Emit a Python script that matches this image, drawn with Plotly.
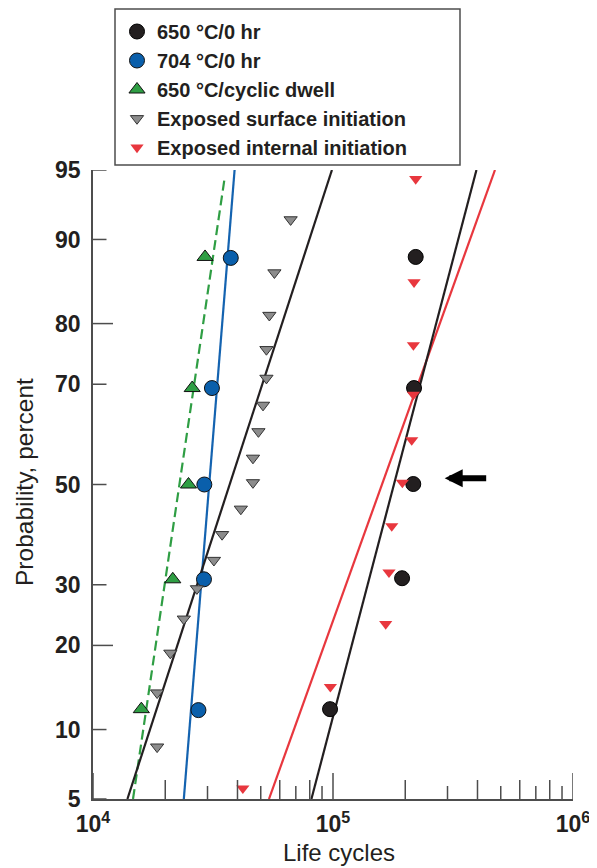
import math
from statistics import NormalDist
import plotly.graph_objects as go

# ---------------- data ----------------
prob_tick_values = [5, 10, 20, 30, 50, 70, 80, 90, 95]
prob_tick_long = [20, 80]
cycle_tick_values = [1e4, 1e5, 1e6]
cycle_tick_labels = ["10<sup>4</sup>", "10<sup>5</sup>", "10<sup>6</sup>"]

hr650_cycles = [97200, 194000, 216000, 217600, 221100]
hr650_prob = [12.0, 31.2, 50.1, 69.3, 88.3]

hr704_cycles = [27500, 29000, 29100, 31300, 37500]
hr704_prob = [11.9, 31.0, 50.0, 69.3, 88.2]

dwell_cycles = [15900, 21500, 25000, 25900, 29300]
dwell_prob = [12.0, 31.0, 50.0, 69.3, 88.3]

surface_cycles = [18500, 18500, 21000, 23900, 27100, 31900, 34500, 41300, 46400,
                  46400, 48900, 51100, 52800, 52800, 54300, 57000, 66600]
surface_prob = [8.5, 13.8, 18.9, 24.1, 29.3, 34.6, 39.7, 44.9, 50.4,
                55.5, 60.9, 66.1, 71.1, 76.0, 81.2, 86.6, 91.7]

internal_cycles = [42100, 97500, 165800, 171100, 175700, 194500, 212800,
                   216300, 216300, 217600, 221100]
internal_prob = [5.6, 14.5, 23.3, 32.3, 41.4, 50.4, 59.2, 68.1, 76.7, 85.5, 94.5]

# fitted lines (end points)
fit_prob = [5, 95]
fit_surface_cycles = [13910, 99000]
fit_650_cycles = [81300, 396000]
fit_internal_cycles = [54100, 473000]
fit_704_cycles = [23900, 38900]
fit_dwell_prob = [5, 94.6]
fit_dwell_cycles = [14680, 35400]

arrow_cycles = 292000
arrow_prob = 51.3

# ---------------- helpers ----------------
ND = NormalDist()


def z(values):
    return [ND.inv_cdf(v / 100.0) for v in values]


FONT = "Liberation Sans, Arial, Helvetica, sans-serif"
BLACK = "#231f20"
BLUE = "#1463b0"
GREEN = "#2f9e44"
GRAY = "#8c8c8c"
RED = "#e8373e"
AXIS = "#4d4d4d"

# page offsets: plot area occupies x 93..573, y 170..799 of the 597x868 page
PAGE_OFF = 8  # default body margin of the page
plot_h = 629.0
plot_w = 480.0
x0_page, y_bottom_page = 93, 799

fig = go.Figure()

# fitted lines
fig.add_trace(go.Scatter(x=fit_dwell_cycles, y=z(fit_dwell_prob), mode="lines",
                         line=dict(color=GREEN, width=2.2, dash="10px,5px"),
                         showlegend=False, hoverinfo="skip"))
fig.add_trace(go.Scatter(x=fit_704_cycles, y=z(fit_prob), mode="lines",
                         line=dict(color=BLUE, width=2.2), showlegend=False, hoverinfo="skip"))
fig.add_trace(go.Scatter(x=fit_surface_cycles, y=z(fit_prob), mode="lines",
                         line=dict(color=BLACK, width=2.2), showlegend=False, hoverinfo="skip"))
fig.add_trace(go.Scatter(x=fit_internal_cycles, y=z(fit_prob), mode="lines",
                         line=dict(color=RED, width=2.2), showlegend=False, hoverinfo="skip"))
fig.add_trace(go.Scatter(x=fit_650_cycles, y=z(fit_prob), mode="lines",
                         line=dict(color=BLACK, width=2.2), showlegend=False, hoverinfo="skip"))

# data markers
fig.add_trace(go.Scatter(x=hr650_cycles, y=z(hr650_prob), mode="markers",
                         name="650 °C/0 hr",
                         marker=dict(symbol="circle", size=15, color=BLACK,
                                     line=dict(color="#000000", width=1))))
fig.add_trace(go.Scatter(x=hr704_cycles, y=z(hr704_prob), mode="markers",
                         name="704 °C/0 hr",
                         marker=dict(symbol="circle", size=15, color="#0a5fab",
                                     line=dict(color="#111111", width=1))))
fig.add_trace(go.Scatter(x=dwell_cycles, y=z(dwell_prob), mode="markers",
                         name="650 °C/cyclic dwell",
                         marker=dict(symbol="triangle-up", size=14, color=GREEN,
                                     line=dict(color="#111111", width=1))))
fig.add_trace(go.Scatter(x=surface_cycles, y=z(surface_prob), mode="markers",
                         name="Exposed surface initiation",
                         marker=dict(symbol="triangle-down", size=11.5, color=GRAY,
                                     line=dict(color="#333333", width=1))))
fig.add_trace(go.Scatter(x=internal_cycles, y=z(internal_prob), mode="markers",
                         name="Exposed internal initiation",
                         marker=dict(symbol="triangle-down", size=11.5, color=RED,
                                     line=dict(width=0))))

# ---------------- tick marks drawn as short segments ----------------
shapes = []
for decade in [1e4, 1e5]:
    for m in range(2, 10):
        v = m * decade
        length = 19 if m % 2 == 0 else 13
        shapes.append(dict(type="line", xref="x", yref="y domain", x0=v, x1=v,
                           y0=0, y1=length / plot_h, line=dict(color=AXIS, width=1.5)))
for v in cycle_tick_values:
    shapes.append(dict(type="line", xref="x", yref="y domain", x0=v, x1=v,
                       y0=0, y1=26 / plot_h, line=dict(color=AXIS, width=1.5)))
for p in prob_tick_values:
    length = 20 if p in prob_tick_long else 13.5
    zz = ND.inv_cdf(p / 100.0)
    shapes.append(dict(type="line", xref="x domain", yref="y", x0=0, x1=length / plot_w,
                       y0=zz, y1=zz, line=dict(color=AXIS, width=1.5)))


def px(xp):
    return (xp - x0_page) / plot_w


def py(yp):
    return (y_bottom_page - yp) / plot_h


# legend box
shapes.append(dict(type="rect", xref="paper", yref="paper",
                   x0=px(115), x1=px(460), y0=py(165), y1=py(9),
                   line=dict(color="#4d4d4d", width=1.5), fillcolor="rgba(0,0,0,0)"))

annotations = [
    dict(x=math.log10(arrow_cycles), y=ND.inv_cdf(arrow_prob / 100.0), xref="x", yref="y",
         text="", showarrow=True, ax=43, ay=0, axref="pixel", ayref="pixel",
         arrowhead=2, arrowwidth=6, arrowsize=0.6, arrowcolor="#000000", standoff=0),
    dict(x=px(339), y=py(852), xref="paper", yref="paper",
         text="Life cycles", showarrow=False, xanchor="center", yanchor="middle",
         font=dict(family=FONT, size=24, color="#231f20")),
    dict(x=px(24), y=py(482), xref="paper", yref="paper",
         text="Probability, percent", showarrow=False, textangle=-90,
         xanchor="center", yanchor="middle",
         font=dict(family=FONT, size=24.5, color="#231f20")),
]

fig.update_layout(
    width=597 - PAGE_OFF, height=868 - PAGE_OFF,
    margin=dict(l=93 - PAGE_OFF, r=24, t=170 - PAGE_OFF, b=69, autoexpand=False),
    plot_bgcolor="white", paper_bgcolor="white",
    font=dict(family=FONT, color="#231f20"),
    shapes=shapes, annotations=annotations,
    legend=dict(x=px(117), y=py(12),
                xanchor="left", yanchor="top",
                bgcolor="rgba(0,0,0,0)", borderwidth=0,
                font=dict(family=FONT, size=20, color="#231f20", weight="bold"),
                tracegroupgap=0),
    xaxis=dict(type="log", range=[4, 6], showgrid=False, zeroline=False,
               showline=True, linecolor=AXIS, linewidth=1.5, ticks="",
               tickvals=cycle_tick_values, ticktext=cycle_tick_labels,
               tickfont=dict(family=FONT, size=23, color="#231f20", weight="bold"),
               ticklabelstandoff=4),
    yaxis=dict(range=[ND.inv_cdf(0.05), ND.inv_cdf(0.95)], showgrid=False, zeroline=False,
               showline=True, linecolor=AXIS, linewidth=1.5, ticks="",
               tickvals=z(prob_tick_values), ticktext=[str(v) for v in prob_tick_values],
               tickfont=dict(family=FONT, size=23, color="#231f20", weight="bold"),
               ticklabelstandoff=6),
)

fig.write_html("out.html")
